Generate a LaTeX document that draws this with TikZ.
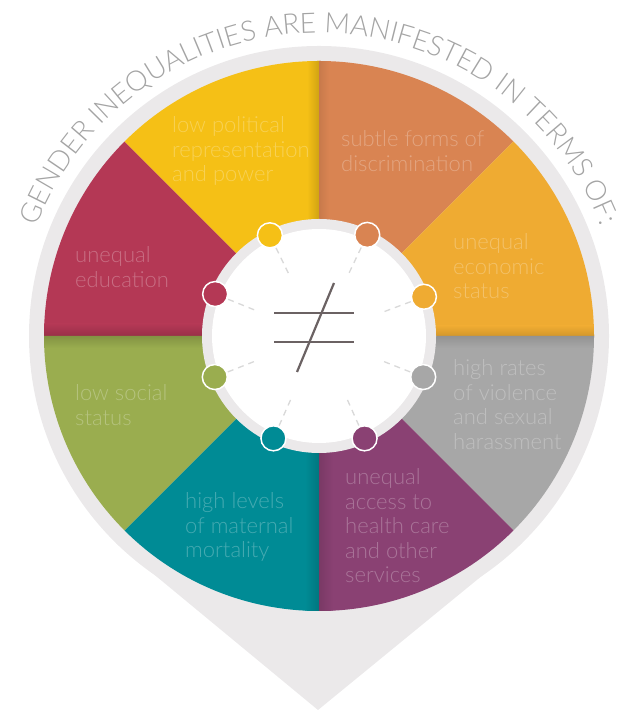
\documentclass[tikz,border=0pt]{standalone}
\usepackage{fontspec}
\newfontfamily\latol{Lato Light}
\usetikzlibrary{decorations.text}
\definecolor{ringgrey}{HTML}{EBE9EA}
\definecolor{cOrange}{HTML}{D98452}
\definecolor{cAmber}{HTML}{EFAB32}
\definecolor{cGrey}{HTML}{A7A7A7}
\definecolor{cPurple}{HTML}{8A4173}
\definecolor{cTeal}{HTML}{008B95}
\definecolor{cGreen}{HTML}{9AAD4F}
\definecolor{cRed}{HTML}{B43855}
\definecolor{cYellow}{HTML}{F5C016}
\definecolor{titlegrey}{HTML}{A4A4A4}
\definecolor{neqgrey}{HTML}{6B6263}
\definecolor{spokegrey}{HTML}{D9D9D9}
\begin{document}
\begin{tikzpicture}[x=1pt,y=1pt,
  lbl/.style={anchor=base west, align=left, text=white, text opacity=0.27, inner sep=0pt,
    font=\latol\fontsize{22}{24.5}\selectfont},
  dot/.style={circle, draw=white, line width=1.5pt, minimum size=25pt, inner sep=0pt},
  spoke/.style={draw=spokegrey, line width=1.3pt, dash pattern=on 6pt off 5pt},
  neq/.style={draw=neqgrey, line width=2.2pt}]
\useasboundingbox (0,0) rectangle (629,711);
\begin{scope}[shift={(319,375)}]
  % outer ring and drop
  \fill[ringgrey] (0,0) circle[radius=290];
  \fill[ringgrey] (-203,-207) -- (-1,-374) -- (203,-207) -- cycle;
  % segments
  \foreach \a/\b/\c in {45/90/cOrange, 0/45/cAmber, -45/0/cGrey, -90/-45/cPurple,
                        -135/-90/cTeal, 180/225/cGreen, 135/180/cRed, 90/135/cYellow}
    \fill[\c] (0,0) -- (\a:275) arc[start angle=\a, end angle=\b, radius=275] -- cycle;
  % soft shadows
  \begin{scope}
    \clip (0,0) -- (90:275) arc[start angle=90, end angle=135, radius=275] -- cycle;
    \shade[left color=cYellow, right color=cYellow!85!black] (-12,0) rectangle (0,280);
  \end{scope}
  \begin{scope}
    \clip (0,0) -- (45:275) arc[start angle=45, end angle=90, radius=275] -- cycle;
    \shade[left color=cOrange!92!black, right color=cOrange] (0,0) rectangle (10,280);
  \end{scope}
  \begin{scope}
    \clip (0,0) -- (135:275) arc[start angle=135, end angle=180, radius=275] -- cycle;
    \shade[bottom color=cRed!85!black, top color=cRed] (-280,0) rectangle (0,12);
  \end{scope}
  \begin{scope}
    \clip (0,0) -- (0:275) arc[start angle=0, end angle=45, radius=275] -- cycle;
    \shade[bottom color=cAmber!88!black, top color=cAmber] (0,0) rectangle (280,10);
  \end{scope}
  \begin{scope}
    \clip (0,0) -- (180:275) arc[start angle=180, end angle=225, radius=275] -- cycle;
    \shade[top color=cGreen!85!black, bottom color=cGreen] (-280,-12) rectangle (0,0);
  \end{scope}
  \begin{scope}
    \clip (0,0) -- (-45:275) arc[start angle=-45, end angle=0, radius=275] -- cycle;
    \shade[top color=cGrey!88!black, bottom color=cGrey] (0,-12) rectangle (280,0);
  \end{scope}
  \begin{scope}
    \clip (0,0) -- (-135:275) arc[start angle=-135, end angle=-90, radius=275] -- cycle;
    \shade[left color=cTeal, right color=cTeal!85!black] (-14,-280) rectangle (0,0);
  \end{scope}
  \begin{scope}
    \clip (0,0) -- (-90:275) arc[start angle=-90, end angle=-45, radius=275] -- cycle;
    \shade[left color=cPurple!88!black, right color=cPurple] (0,-280) rectangle (14,0);
  \end{scope}
  % inner disc
  \fill[ringgrey] (0,0) circle[radius=117];
  \fill[white] (0,0) circle[radius=107];
  % spokes and dots
  \foreach \a/\c [count=\i] in {116/cYellow, 64.5/cOrange, 20.5/cAmber, -21.5/cGrey,
                               -66/cPurple, -114/cTeal, 201.5/cGreen, 158/cRed} {
    \draw[spoke] (\a:70) -- (\a:98);
    \node[dot, fill=\c] (d\i) at (\a:112) {};
  }
  % not-equal sign
  \draw[neq] (-45,23) -- (35,23);
  \draw[neq] (-45,-6) -- (35,-6);
  \draw[neq] (15,53) -- (-22,-36);
  % curved title
  \path[decorate, decoration={text along path, text align=center,
      text={|\latol\fontsize{28}{28}\selectfont\color{titlegrey}|GENDER INEQUALITIES ARE MANIFESTED IN TERMS OF:}}]
    (160:303) arc[start angle=160, end angle=20, radius=303];
\end{scope}
% labels (anchored at the baseline of the last line)
\node[lbl] (t1) at (172,529) {low political\\representation\\and power};
\node[lbl] (t2) at (341,539.5) {subtle forms of\\discrimination};
\node[lbl] (t3) at (453,412) {unequal\\economic\\status};
\node[lbl] (t4) at (453,261.5) {high rates\\of violence\\and sexual\\harassment};
\node[lbl] (t5) at (345,128) {unequal\\access to\\health care\\and other\\services};
\node[lbl] (t6) at (185,153) {high levels\\of maternal\\mortality};
\node[lbl] (t7) at (75,285.5) {low social\\status};
\node[lbl] (t8) at (75,423.5) {unequal\\education};
\end{tikzpicture}
\end{document}
